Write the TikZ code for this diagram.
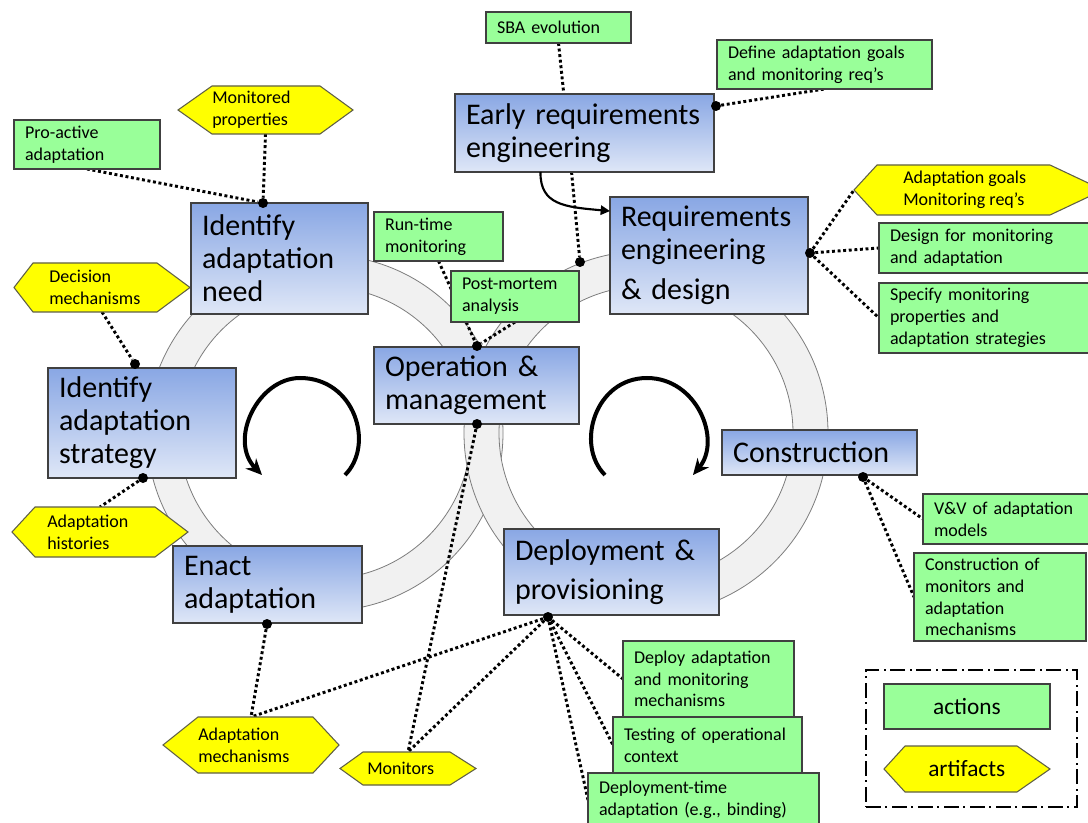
\documentclass[tikz,border=0pt]{standalone}
\usepackage{fontspec}
\setmainfont{Carlito}
\usetikzlibrary{arrows.meta,calc,fit}

\definecolor{actgreen}{RGB}{153,255,153}
\definecolor{artyellow}{RGB}{255,255,0}
\definecolor{blueTop}{RGB}{137,167,228}
\definecolor{blueBot}{RGB}{223,231,247}
\definecolor{ringgray}{RGB}{241,241,241}
\definecolor{ringedge}{RGB}{125,125,125}
\definecolor{frameline}{RGB}{64,64,64}
\definecolor{hexedge}{RGB}{95,95,70}

\pgfdeclarelayer{back}
\pgfdeclarelayer{links}
\pgfsetlayers{back,links,main}

% hexagonal artifact: name, x1, y1, x2, y2, left slant, right slant, text x, text
\newcommand\hexnode[9]{%
  \node[hexbox, fit={(#2,#3) (#4,#5)}] (#1) {};
  \filldraw[hexfill] (#2,{(#3+#5)/2}) -- ({#2+#6},#3) -- ({#4-#7},#3) -- (#4,{(#3+#5)/2})
    -- ({#4-#7},#5) -- ({#2+#6},#5) -- cycle;
  \node[hextext, anchor=west] (#1-text) at (#8,{(#3+#5)/2}) {#9};%
}

\begin{document}
\begin{tikzpicture}[x=0.75pt,y=-0.75pt,
  boxline/.style={draw=frameline, line width=0.9pt},
  plate/.style={rectangle, anchor=north west, inner xsep=8.25pt, inner ysep=0pt,
    outer sep=0pt, align=left},
  bluebox/.style={plate, boxline, top color=blueTop, bottom color=blueBot,
    font=\fontsize{22.5}{24.75}\selectfont},
  greenbox/.style={plate, boxline, fill=actgreen, font=\fontsize{13.5}{16.3}\selectfont},
  hexbox/.style={inner sep=0pt, outer sep=0pt, draw=none},
  hexfill/.style={fill=artyellow, draw=hexedge, line width=0.8pt},
  hextext/.style={inner sep=0pt, align=left, font=\fontsize{13.5}{16.3}\selectfont},
  link/.style={line width=2.2pt, dash pattern=on 2.2pt off 2pt},
  joint/.style={circle, fill=black, inner sep=0pt, minimum size=7.5pt},
  ringband/.style={fill=ringgray, even odd rule},
  ringline/.style={draw=ringedge, line width=0.6pt},
  cyclearrow/.style={line width=3pt, -{Stealth[length=12pt,width=11pt]}},
  feed/.style={line width=1.6pt, -{Triangle[length=7pt,width=7pt]}},
  legendframe/.style={draw=black, line width=1.5pt, inner sep=0pt,
    dash pattern=on 11pt off 3.5pt on 1.5pt off 3.5pt}
]
\useasboundingbox (0,0) rectangle (1088,823);

% the two interlocking life-cycle rings and their cycle arrows
\begin{pgfonlayer}{back}
  \fill[white] (0,0) rectangle (1088,823);
  \fill[ringband] (325,433) circle[radius=178] (325,433) circle[radius=146];
  \draw[ringline] (325,433) circle[radius=178] (325,433) circle[radius=146];
  \fill[ringband] (646,433) circle[radius=182] (646,433) circle[radius=147];
  \draw[ringline] (646,433) circle[radius=182] (646,433) circle[radius=147];
  \draw[cyclearrow] (345,475) .. controls (375,445) and (355,378) .. (300,378)
    .. controls (258,378) and (228,440) .. (262,475);
  \draw[cyclearrow] (605,475) .. controls (575,445) and (595,378) .. (647,378)
    .. controls (697,378) and (722,440) .. (693,475);
\end{pgfonlayer}

% actions
\node[greenbox, text width=92.25pt, minimum height=23.25pt] (sba) at (486,12) {SBA evolution};
\node[greenbox, text width=144.75pt, minimum height=36.75pt] (dag) at (717,40) {Define adaptation goals\\and monitoring req’s};
\node[greenbox, text width=93pt, minimum height=36.75pt] (pro) at (14,120) {Pro-active\\adaptation};
\node[greenbox, text width=80.25pt, minimum height=36.75pt] (rtm) at (374,212) {Run-time\\monitoring};
\node[greenbox, text width=79.5pt, minimum height=38.25pt] (pma) at (451,271) {Post-mortem\\analysis};
\node[greenbox, text width=145.5pt, minimum height=37.5pt] (dfm) at (879,223) {Design for monitoring\\and adaptation};
\node[greenbox, text width=145.5pt, minimum height=52.5pt] (smp) at (879,283) {Specify monitoring\\properties and\\adaptation strategies};
\node[greenbox, text width=112.5pt, minimum height=37.5pt] (vv) at (923,494) {V\&V of adaptation\\models};
\node[greenbox, text width=112.5pt, minimum height=66pt] (com) at (914,553) {Construction of\\monitors and\\adaptation\\mechanisms};
\node[greenbox, text width=111.75pt, minimum height=57pt] (dam) at (623,641) {Deploy adaptation\\and monitoring\\mechanisms};
\node[greenbox, text width=125.25pt, minimum height=42pt] (toc) at (613,717) {Testing of operational\\context};
\node[greenbox, text width=156.75pt, minimum height=40.5pt] (dta) at (588,773) {Deployment-time\\adaptation (e.g., binding)};

% artifacts
\hexnode{mop}{178}{86}{353}{134}{34}{33}{212}{Monitored\\properties}
\hexnode{dcm}{14}{263}{190}{312}{19}{33}{49}{Decision\\mechanisms}
\hexnode{ahi}{12}{507}{188}{557}{23}{33}{47}{Adaptation\\histories}
\hexnode{agm}{854}{165}{1103}{215}{23}{53}{903}{Adaptation goals\\Monitoring req’s}
\hexnode{adm}{163}{717}{339}{773}{35}{26}{198}{Adaptation\\mechanisms}
\hexnode{mon}{340}{752}{476}{785}{23}{26}{367}{Monitors}

% life-cycle phases
\node[bluebox, text width=177.75pt, minimum height=58.5pt] (ere) at (455,94) {Early requirements\\engineering};
\node[bluebox, text width=132pt, minimum height=87.75pt] (red) at (610,197) {Requirements\\engineering\\[5pt]\& design};
\node[bluebox, text width=116.25pt, minimum height=83.25pt] (ian) at (191,203) {Identify\\adaptation\\need};
\node[bluebox, text width=124.5pt, minimum height=82.5pt] (ias) at (48,368) {Identify\\adaptation\\strategy};
\node[bluebox, text width=125.25pt, minimum height=57.75pt] (ena) at (173,546) {Enact\\adaptation};
\node[bluebox, text width=137.25pt, minimum height=57.75pt] (opm) at (374,347) {Operation \&\\management};
\node[bluebox, text width=144.75pt, minimum height=64.5pt] (dep) at (504,529) {Deployment \&\\[4.5pt]provisioning};
\node[bluebox, text width=129.75pt, minimum height=33.75pt] (con) at (722,430) {Construction};

% legend
\node[legendframe, fit={(866,670) (1077,807)}] (legend) {};
\node[boxline, fill=actgreen, inner sep=0pt, outer sep=0pt, anchor=north west,
  minimum width=124.5pt, minimum height=33.75pt,
  font=\fontsize{17.5}{21}\selectfont] (actions) at (884,684) {actions};
\hexnode{art}{884}{746}{1050}{792}{21}{33}{928}{\fontsize{17.5}{21}\selectfont artifacts}

% connection points
\node[joint] (j-ere) at (716,106) {};
\node[joint] (j-ring) at (580,262) {};
\node[joint] (j-ian) at (263,203) {};
\node[joint] (j-ias-top) at (135,364) {};
\node[joint] (j-ias-bot) at (143,478) {};
\node[joint] (j-opm-top) at (477,346) {};
\node[joint] (j-opm-bot) at (477,424) {};
\node[joint] (j-ena) at (267,624) {};
\node[joint] (j-dep) at (548,617) {};
\node[joint] (j-red) at (810,253) {};
\node[joint] (j-con) at (863,477) {};

% flow from early requirements into requirements engineering
\draw[feed] ($(ere.south west)!0.33!(ere.south east)$) .. controls (540,205) and (565,207)
  .. ($(red.north west)!0.12!(red.south west)$);

% dotted associations
\begin{pgfonlayer}{links}
  \draw[link] (sba.south) -- ($(ere.north west)!0.42!(ere.north east)$);
  \draw[link] (j-ere) -- (dag.south);
  \draw[link] ($(ere.south west)!0.45!(ere.south east)$) -- (j-ring);
  \draw[link] (pro.south) -- (j-ian);
  \draw[link] (mop.south) -- (j-ian);
  \draw[link] (dcm.south) -- (j-ias-top);
  \draw[link] (j-ias-bot) -- (ahi.north);
  \draw[link] (rtm.south) -- (j-opm-top);
  \draw[link] (pma.south) -- (j-opm-top);
  \draw[link] (j-opm-bot) -- (mon.north);
  \draw[link] (j-ena) -- (adm.north);
  \draw[link] (j-dep) -- (adm.north);
  \draw[link] (j-dep) -- (mon.north);
  \draw[link] (j-dep) -- (dam.west);
  \draw[link] (j-dep) -- (toc.west);
  \draw[link] (j-dep) -- (dta.west);
  \draw[link] (j-red) -- (agm.west);
  \draw[link] (j-red) -- (dfm.west);
  \draw[link] (j-red) -- (smp.west);
  \draw[link] (j-con) -- (vv.west);
  \draw[link] (j-con) -- (com.west);
\end{pgfonlayer}
\end{tikzpicture}
\end{document}
